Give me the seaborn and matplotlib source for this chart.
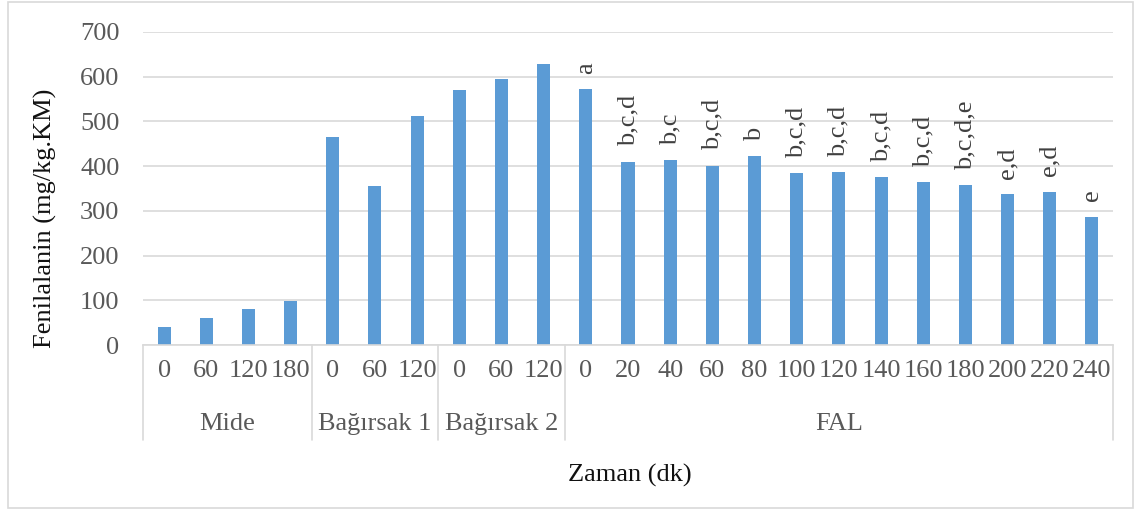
import matplotlib
matplotlib.use('Agg')
import matplotlib.pyplot as plt
import seaborn as sns
import pandas as pd
from matplotlib.patches import Rectangle

# data
groups = ['Mide', 'Bağırsak 1', 'Bağırsak 2', 'FAL']
group_times = [
    ['0', '60', '120', '180'],
    ['0', '60', '120'],
    ['0', '60', '120'],
    ['0', '20', '40', '60', '80', '100', '120', '140', '160', '180', '200', '220', '240'],
]
values = [40, 61, 80, 99,
          466, 356, 512,
          570, 595, 629,
          572, 410, 414, 401, 422, 384, 387, 375, 364, 357, 338, 343, 287]
fal_letters = ['a', 'b,c,d', 'b,c', 'b,c,d', 'b', 'b,c,d', 'b,c,d', 'b,c,d',
               'b,c,d', 'b,c,d,e', 'e,d', 'e,d', 'e']

tick_labels = [t for ts in group_times for t in ts]
df = pd.DataFrame({'pos': [f'{g}_{t}' for g, ts in zip(groups, group_times) for t in ts],
                   'value': values})

sns.set_style('white')
plt.rcParams['font.family'] = ['Liberation Serif', 'DejaVu Serif']
FS = 19

W, H = 1141, 509
fig = plt.figure(figsize=(W / 100, H / 100), dpi=100)
left, right, top, bottom = 143, 1113, 32, 345
ax = fig.add_axes([left / W, 1 - bottom / H, (right - left) / W, (bottom - top) / H])

sns.barplot(data=df, x='pos', y='value', color='#5B9BD5', width=0.31,
            saturation=1, ax=ax, edgecolor='none')

ax.set_ylim(0, 700)
ax.set_xlim(-0.5, len(values) - 0.5)
ax.set_yticks(range(0, 701, 100))
ax.yaxis.grid(True, color='#D9D9D9', linewidth=1.2)
ax.set_axisbelow(True)
for s in ['left', 'right', 'top']:
    ax.spines[s].set_visible(False)
ax.spines['bottom'].set_color('#D9D9D9')
ax.spines['bottom'].set_linewidth(1.2)

ax.set_xticks(range(len(tick_labels)))
ax.set_xticklabels(tick_labels)
ax.tick_params(axis='x', length=0, pad=11, labelsize=FS, labelcolor='#595959')
ax.tick_params(axis='y', length=0, pad=17, labelsize=FS, labelcolor='#595959')
ax.set_xlabel('')
ax.set_ylabel('')

# category group separators and labels
axis_h = bottom - top
sep_bottom = -(440 - bottom) / axis_h
xt = ax.get_xaxis_transform()
start = 0
bounds = [-0.5]
for g, ts in zip(groups, group_times):
    end = start + len(ts)
    bounds.append(end - 0.5)
    ax.text((start + end - 1) / 2, -(424 - bottom) / axis_h, g, transform=xt,
            ha='center', va='center', fontsize=FS, color='#595959')
    start = end
for b in bounds:
    ax.plot([b, b], [0, sep_bottom], transform=xt, color='#D9D9D9', lw=1.2, clip_on=False)

# significance letters on FAL bars
fal_start = len(values) - len(fal_letters)
for i, lab in enumerate(fal_letters):
    idx = fal_start + i
    ax.annotate(lab, (idx, values[idx]), xytext=(0, 11), textcoords='offset points',
                rotation=90, ha='center', va='bottom', fontsize=FS, color='#404040')

fig.text(45 / W, 1 - 218 / H, 'Fenilalanin (mg/kg.KM)', rotation=90, ha='center',
         va='center', fontsize=FS, color='#111111')
fig.text(630 / W, 1 - 475 / H, 'Zaman (dk)', ha='center', va='center',
         fontsize=FS, color='#111111')

fig.patches.append(Rectangle((8 / W, 1 / H), (1133 - 8) / W, (507 - 1) / H,
                             transform=fig.transFigure, fill=False,
                             edgecolor='#D9D9D9', lw=1.2))

fig.savefig('out.png', dpi=100)
